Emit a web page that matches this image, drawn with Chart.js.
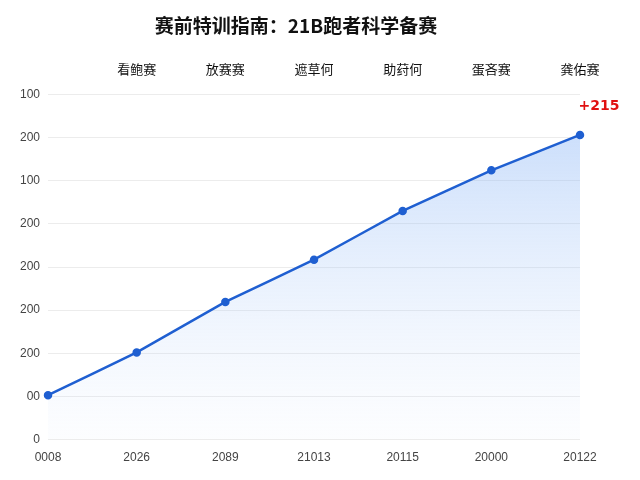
<!DOCTYPE html><html><head><meta charset="utf-8">
<script src="https://cdn.jsdelivr.net/npm/chart.js@4/dist/chart.umd.min.js"></script>
<style>html,body{margin:0;background:#fff}#w{width:640px;height:480px}</style></head><body><div id="w"><canvas id="c"></canvas></div>
<script>
const categories=['0008','2026','2089','21013','20115','20000','20122'];
const topLabels=['','看鲍赛','放赛赛','遮草何','助荮何','蛋吝赛','龚佑赛'];
const values=[103,202,319,417,530,624,706];
const yTickLabels=['0','00','200','200','200','200','100','200','100'];
const note='+215';
const ctx=document.getElementById('c');
const notePlugin={id:'note',afterDatasetsDraw(ch){const m=ch.getDatasetMeta(0).data;const p=m[m.length-1];const c=ch.ctx;c.save();c.fillStyle='#e01010';c.font='bold 14px "DejaVu Sans"';c.textAlign='center';c.fillText(note,p.x+19,p.y-25);c.restore();}};
new Chart(ctx,{type:'line',data:{labels:categories,datasets:[{data:values,borderColor:'#1f5fd1',borderWidth:2.5,pointRadius:3,pointBackgroundColor:'#1f5fd1',pointBorderColor:'#1f5fd1',fill:true,tension:0.05,
backgroundColor(c){const a=c.chart.chartArea;if(!a)return'rgba(120,170,240,0.3)';const g=c.chart.ctx.createLinearGradient(0,a.top,0,a.bottom);g.addColorStop(0,'rgba(120,170,245,0.45)');g.addColorStop(1,'rgba(200,220,250,0.05)');return g;}}]},
options:{responsive:true,maintainAspectRatio:false,animation:false,layout:{padding:{left:12,right:60,top:0,bottom:12}},
plugins:{legend:{display:false},tooltip:{enabled:false},title:{display:true,text:'赛前特训指南：21B跑者科学备赛',font:{size:19,weight:'bold',family:'"Noto Sans CJK SC"'},color:'#111',padding:{top:14,bottom:14}}},
scales:{x:{offset:false,grid:{display:false},border:{display:false},ticks:{color:'#444',font:{size:12},maxRotation:0}},
x2:{position:'top',type:'category',labels:topLabels,offset:false,grid:{display:false},border:{display:false},ticks:{color:'#111',font:{size:13,family:'"Noto Sans CJK SC"'},maxRotation:0,padding:10}},
y:{min:0,max:800,ticks:{stepSize:100,color:'#444',font:{size:12},padding:8,callback:(v,i)=>yTickLabels[i]},grid:{color:'#ececec',drawTicks:false},border:{display:false}}}},plugins:[notePlugin]});
</script></body></html>
